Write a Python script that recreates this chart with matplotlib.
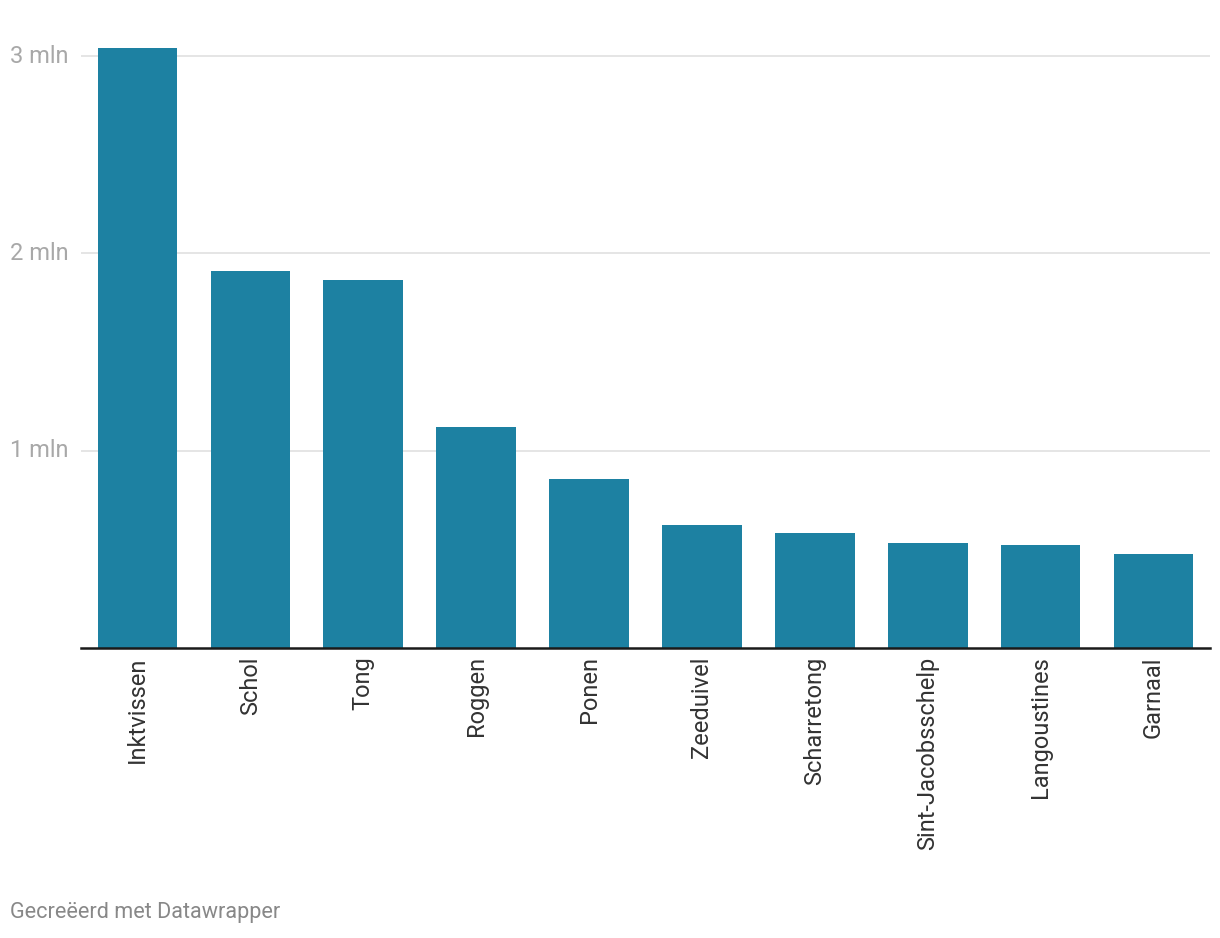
import matplotlib
matplotlib.use('Agg')
import matplotlib.pyplot as plt

categories = ['Inktvissen', 'Schol', 'Tong', 'Roggen', 'Ponen', 'Zeeduivel',
              'Scharretong', 'Sint-Jacobsschelp', 'Langoustines', 'Garnaal']
values = [3.04, 1.91, 1.865, 1.12, 0.857, 0.623, 0.583, 0.532, 0.522, 0.476]
y_ticks = [1, 2, 3]

plt.rcParams['font.family'] = ['Roboto', 'DejaVu Sans']

fig = plt.figure(figsize=(12.2, 9.38), dpi=100)
ax = fig.add_axes([81 / 1220, 1 - 648 / 938, (1210 - 81) / 1220, (648 - 40) / 938])

x = range(len(categories))
ax.bar(x, values, width=0.705, color='#1d81a2', zorder=2)

ax.set_xlim(-0.5, len(categories) - 0.5)
ax.set_ylim(0, (648 - 40) / 197.3)

# gridlines + labels at the left edge of the figure
ylab_tr = matplotlib.transforms.blended_transform_factory(fig.transFigure, ax.transData)
for t in y_ticks:
    ax.axhline(t, color='#e0e0e0', linewidth=1.2, zorder=1)
    ax.text(10 / 1220, t, '%d mln' % t, transform=ylab_tr,
            ha='left', va='center', fontsize=17, color='#a8a8a8')

ax.set_yticks([])
ax.set_xticks(list(x))
ax.set_xticklabels(categories, rotation=90, fontsize=17, color='#333333')
ax.tick_params(axis='x', length=0, pad=6)

for s in ['top', 'right', 'left']:
    ax.spines[s].set_visible(False)
ax.spines['bottom'].set_color('#1a1a1a')
ax.spines['bottom'].set_linewidth(1.8)
ax.spines['bottom'].set_zorder(3)

fig.text(10 / 1220, 1 - 912 / 938, 'Gecreëerd met Datawrapper', ha='left', va='center',
         fontsize=15.6, color='#888888')

fig.savefig('out.png', dpi=100)
